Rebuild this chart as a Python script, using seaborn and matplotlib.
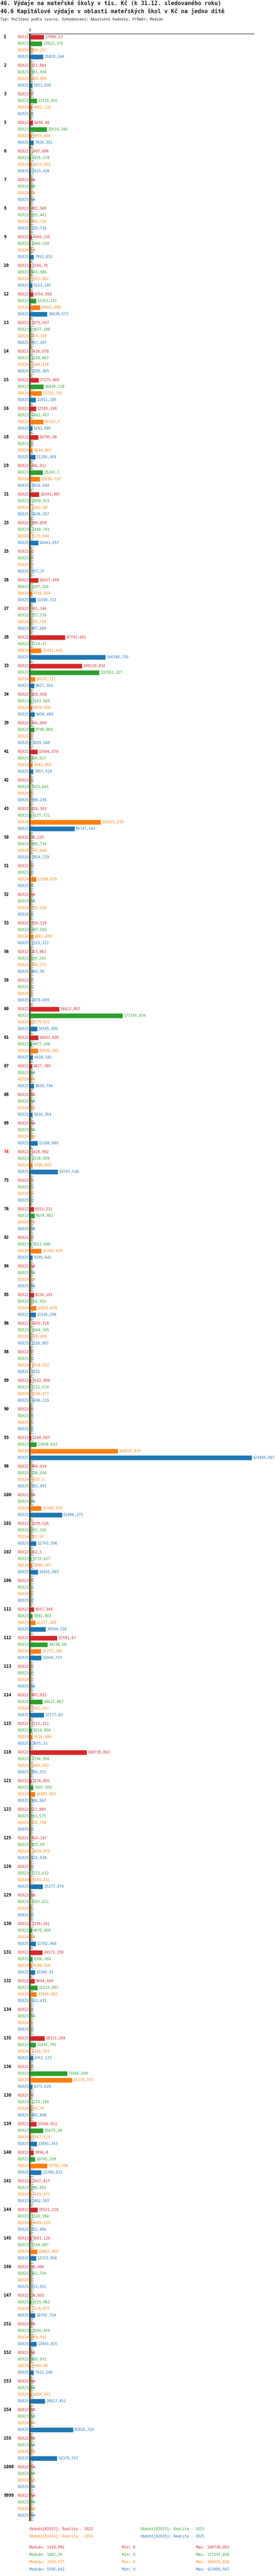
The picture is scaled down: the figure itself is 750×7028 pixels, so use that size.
import numpy as np
import pandas as pd
import matplotlib
matplotlib.use("Agg")
import matplotlib.pyplot as plt
import seaborn as sns

NA = np.nan

# ------------------ Data ------------------
groups = ['1', '2', '3', '5', '6', '7', '8', '9', '10', '12', '13', '14', '15', '16', '18', '19',
          '21', '23', '25', '26', '27', '28', '33', '34', '39', '41', '42', '43', '50', '51', '52',
          '53', '56', '58', '60', '61', '67', '68', '69', '74', '75', '76', '82', '84', '85', '86',
          '88', '89', '90', '93', '96', '100', '101', '102', '106', '111', '112', '113', '114',
          '115', '118', '121', '122', '125', '126', '129', '130', '131', '132', '134', '135', '136',
          '138', '139', '140', '141', '144', '145', '146', '147', '151', '152', '153', '154', '155',
          '1000', '9999']
highlight = '74'

periods = ['R2022', 'R2023', 'R2024', 'R2025']
period_names = ['Realita - 2022', 'Realita - 2023', 'Realita - 2024', 'Realita - 2025']
colors = ['#d62728', '#2ca02c', '#ff7f0e', '#1f77b4']

r2022 = [27084.53, 323.864, 0, 6498.86, 1497.696, NA, 482.368, 4160.235, 2790.78, 6754.958,
         1975.937, 1426.078, 17175.865, 12585.248, 16785.08, 346.912, 18341.997, 990.859, 0,
         16617.949, 591.146, 67742.661, 100129.032, 928.058, 946.809, 15066.079, 0, 616.303,
         76.225, 0, NA, 550.119, 163.863, 0, 56622.807, 16822.695, 4827.389, NA, NA, 1428.992,
         0, 8153.211, 0, NA, 8224.101, 1605.726, 0, 3102.904, 0, 3188.507, 986.014, NA,
         1039.526, 262.5, 0, 8557.945, 52581.67, 0, 887.015, 1272.312, 108738.063, 3136.842,
         117.984, 824.147, 0, NA, 2190.141, 24573.258, 9444.444, 0, 28313.208, 0, 0, 13180.922,
         7894.8, 2927.817, 15521.218, 3581.126, 40.486, 34.003, NA, NA, NA, NA, NA, NA, NA]

r2023 = [23922.378, 581.934, 13720.492, 32614.286, 2455.378, NA, 635.461, 1940.334, 943.986,
         12353.111, 3677.208, 1528.662, 26638.728, 1662.407, 0, 25241.7, 2009.915, 2340.741, 0,
         1297.101, 757.576, 1519.47, 132951.327, 3163.569, 8798.883, 180.617, 1025.641,
         3177.721, 880.734, 0, NA, 897.583, 120.242, 0, 177297.834, 4077.206, NA, NA, NA,
         2138.009, 0, 9574.982, 3511.848, NA, 355.932, 1664.345, 0, 1211.574, 0, 13058.693,
         736.034, NA, 302.326, 3732.627, 0, 5892.903, 34236.58, 0, 24622.867, 4214.804,
         2394.904, 7007.092, 143.575, 829.59, 1172.612, 1052.632, 4670.409, 5306.366, 15233.087,
         NA, 11492.701, 71665.094, 1174.199, 25675.38, 10745.299, 398.693, 1160.394, 1149.007,
         162.734, 3225.962, 2634.454, 605.072, NA, NA, NA, NA, NA]

r2024 = [694.257, 668.958, 4952.135, 3859.004, 4213.651, NA, 458.716, NA, 1352.482, 19941.088,
         653.169, 1304.118, 22732.701, 26332.5, 5644.863, 19590.728, 2262.04, 1725.646, 0,
         4756.824, 255.754, 22451.442, 10531.111, 4870.036, 0, 5441.964, 0, 135415.519,
         747.664, 12588.679, 553.525, 6841.499, 400.372, 0, 3179.012, 15934.545, NA, NA, NA,
         5796.043, 0, NA, 22364.929, NA, 12815.678, 789.099, 1918.552, 1596.071, 0, 168415.816,
         1437.5, 22146.919, 187.97, 5090.347, 0, 11177.169, 21777.296, 0, 1041.367, 5516.984,
         1480.263, 10369.403, 176.708, 2659.973, 3193.431, 0, NA, 4288.526, 13584.665, 0,
         2140.351, 81174.757, 254.79, 3267.523, 33782.194, 3109.477, 4089.219, 14867.003, 0,
         2129.677, 909.091, 2588.98, 4384.071, NA, NA, NA, NA]

r2025 = [25820.144, 5351.039, 0, 7820.301, 2523.426, NA, 720.716, 7953.833, 5113.145, 33630.573,
         667.287, 1585.965, 11851.185, 5291.885, 11284.369, 1826.544, 1638.767, 16441.057,
         557.37, 11580.311, 407.609, 144398.759, 8827.354, 9458.484, 3039.548, 7057.018,
         588.235, 85747.543, 1914.729, 0, 0, 1313.317, 460.39, 1878.659, 14585.995, 6418.182,
         8650.794, 5818.354, 15288.889, 53747.536, 0, NA, 5595.642, NA, 11546.296, 1126.997,
         1015, 1696.115, 0, 423405.567, 782.991, 61986.175, 12743.396, 15831.683, 0, 30594.726,
         22044.737, NA, 27177.82, 3075.51, 309.371, 186.567, 0, 615.038, 25277.974, 0,
         11762.468, 10260.91, 913.431, 0, 6762.172, 5373.626, 885.606, 13850.343, 22288.013,
         2482.587, 351.406, 12723.958, 523.932, 10745.724, 12943.925, 7922.248, 29627.451,
         82810.726, 52379.747, NA, NA]

series = {'R2022': r2022, 'R2023': r2023, 'R2024': r2024, 'R2025': r2025}

title1 = "46. Výdaje na mateřské školy v tis. Kč (k 31.12. sledovaného roku)"
title2 = "46.6 Kapitálové výdaje v oblasti mateřských škol v Kč na jedno dítě"
subtitle = "Typ: Počítaný podle vzorce, Vyhodnocení: Absolutní hodnoty, Průměr: Medián"

# ------------------ Settings ------------------
W_PX, H_PX, DPI = 750, 7028, 100
BAR_W = 0.923
FS = 7.2


def fmt(v):
    if np.isnan(v):
        return "NA"
    s = f"{v + 1e-9:.3f}".rstrip('0').rstrip('.')
    return s.replace('.', ',')


def fy(px):
    return 1 - px / H_PX


df = pd.DataFrame({'group': np.repeat(groups, len(periods)),
                   'period': periods * len(groups),
                   'value': np.array([series[p] for p in periods]).T.ravel()})

sns.set_style("white")
plt.rcParams['font.family'] = ['DejaVu Sans Mono', 'DejaVu Sans']

fig = plt.figure(figsize=(W_PX / DPI, H_PX / DPI), dpi=DPI)
ax = fig.add_axes([75 / W_PX, fy(6878), 618 / W_PX, 6786 / H_PX])

sns.barplot(data=df, x='value', y='group', hue='period', order=groups, hue_order=periods,
            palette=colors, orient='h', width=BAR_W, gap=0.2, errorbar=None, saturation=1,
            legend=False, ax=ax)

xmax = np.nanmax(df['value'])
n = len(groups)
ax.set_xlim(-0.01 * xmax, 1.01 * xmax)
ax.set_ylim(n - 0.46, -0.46)

# median lines + zero line
styles = ['-', '-', (0, (3, 2)), (0, (3, 2))]
for p, c, ls in zip(periods, colors, styles):
    ax.axvline(np.nanmedian(series[p]), color=c, lw=1, ls=ls, zorder=0.5)
ax.axvline(0, color='black', lw=1.7, zorder=3)

# labels
for i, g in enumerate(groups):
    for k, (p, c) in enumerate(zip(periods, colors)):
        y = i + (k - 1.5) * BAR_W / 4
        v = series[p][i]
        ax.annotate(p, xy=(0, y), xytext=(-3, 0), textcoords='offset pixels',
                    ha='right', va='center', color=c, fontsize=FS, annotation_clip=False)
        ax.annotate(fmt(v), xy=(0 if np.isnan(v) else v, y), xytext=(3, 0),
                    textcoords='offset pixels', ha='left', va='center', color=c,
                    fontsize=FS, annotation_clip=False)
    y0 = i - 1.5 * BAR_W / 4
    ax.annotate(g, xy=(10, y0), xycoords=('figure pixels', 'data'), ha='left', va='center',
                fontsize=8.3, fontweight='bold', annotation_clip=False,
                color='#ff0000' if g == highlight else 'black')

# axes styling
ax.set_xlabel('')
ax.set_ylabel('')
ax.set_yticks([])
ax.xaxis.tick_top()
ax.set_xticks([0])
ax.set_xticklabels(['0'])
ax.tick_params(axis='x', length=0, pad=3, labelsize=FS)
for side in ['left', 'right', 'bottom']:
    ax.spines[side].set_visible(False)
ax.spines['top'].set_color('black')
ax.spines['top'].set_linewidth(0.8)

# titles
fig.text(1 / W_PX, fy(9), title1, fontsize=10.9, fontweight='bold', ha='left', va='center')
fig.text(1 / W_PX, fy(31), title2, fontsize=10.9, fontweight='bold', ha='left', va='center')
fig.text(1 / W_PX, fy(52), subtitle, fontsize=FS, ha='left', va='center')

# legend
leg_pos = [(80, 6900), (383, 6900), (80, 6920), (383, 6920)]
for (x, y), p, name, c in zip(leg_pos, periods, period_names, colors):
    fig.text(x / W_PX, fy(y), f"Období[{p}]: {name}", color=c, fontsize=FS, ha='left', va='center')

# stats
for k, (p, c) in enumerate(zip(periods, colors)):
    y = fy(6950 + 20 * k)
    vals = np.array(series[p], dtype=float)
    fig.text(80 / W_PX, y, f"Medián: {fmt(np.nanmedian(vals))}", color=c, fontsize=FS, va='center')
    fig.text(333 / W_PX, y, f"Min: {fmt(np.nanmin(vals))}", color=c, fontsize=FS, va='center')
    fig.text(535 / W_PX, y, f"Max: {fmt(np.nanmax(vals))}", color=c, fontsize=FS, va='center')

fig.savefig("out.png", dpi=DPI)
